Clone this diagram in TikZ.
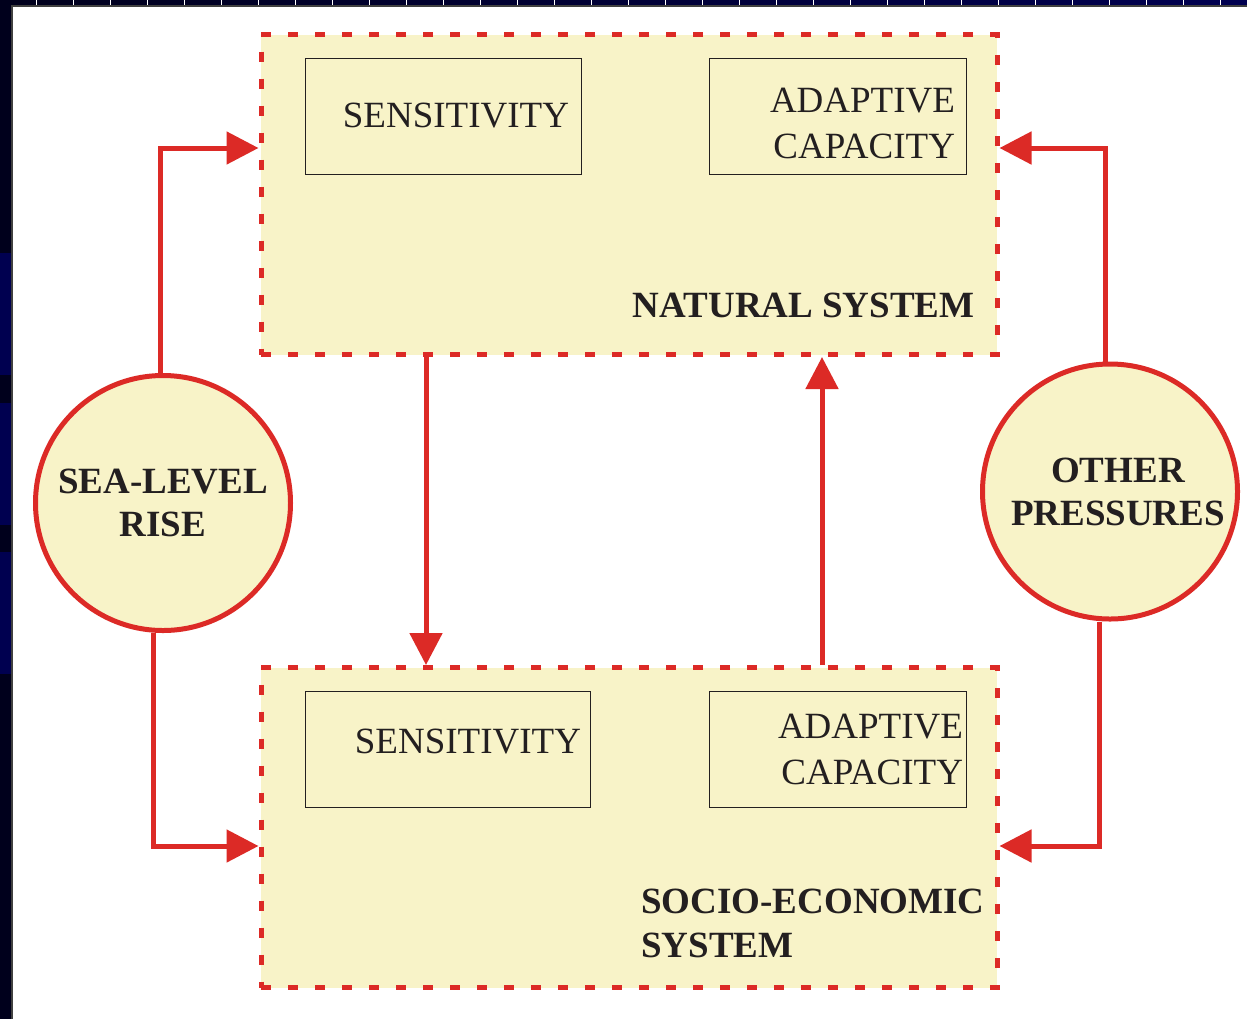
\documentclass[tikz,border=0pt]{standalone}
\usepackage{fontspec}
\setmainfont{Liberation Serif}
\usetikzlibrary{arrows.meta,positioning,backgrounds}
\definecolor{cream}{HTML}{F8F3C8}
\definecolor{sysred}{HTML}{DC2A26}
\definecolor{inkgrey}{HTML}{231F20}
\definecolor{framenavy}{HTML}{000050}
\definecolor{frameblack}{HTML}{00001C}

\begin{document}
\begin{tikzpicture}[
  x=0.5pt, y=-0.5pt,
  font=\fontsize{18.5}{23}\selectfont,
  text=inkgrey,
  system/.style={draw=sysred, fill=cream, line width=2.5pt,
                 dash pattern=on 5pt off 8.5pt, inner sep=0pt,
                 minimum width=368pt, minimum height=160pt},
  part/.style={draw=inkgrey, line width=0.5pt, align=right,
               minimum height=58pt, inner ysep=0pt},
  driver/.style={circle, draw=sysred, fill=cream, line width=2.5pt,
                 minimum size=127.5pt, inner sep=0pt, align=center,
                 font=\fontsize{18.5}{21.5}\selectfont\bfseries},
  title/.style={font=\fontsize{18.5}{22}\selectfont\bfseries, inner sep=0pt},
  arrow/.style={-{Triangle[length=16pt,width=16pt]}, draw=sysred,
                line width=2.5pt}
]

% ===== frame =====
\useasboundingbox (0,0) rectangle (1247,1019);
\fill[white] (0,0) rectangle (1247,1019);
\fill[frameblack] (0,0) rectangle (12,1019);
\foreach \y in {253,403,552} {
  \fill[framenavy] (0,\y) rectangle (12,\y+122);
}
\shade[left color=frameblack, right color=framenavy] (12,0) rectangle (1247,6);
\foreach \x in {36,73,...,1247} {
  \draw[white, line width=0.4pt] (\x,0) -- (\x,6);
}
\draw[black!75, line width=0.6pt] (12,1019) -- (12,6) -- (1247,6);

% ===== systems =====
\node[system] (natural) at (629,194.5) {};
\node[system] (socio) at (629,827.5) {};

\node[part, text width=126pt, inner xsep=6pt] (natsens) at (443,116) {SENSITIVITY};
\node[part, text width=117.5pt, inner xsep=5.5pt, text height=19.5pt] (natadapt) at (837.5,116) {ADAPTIVE\\CAPACITY};
\node[title, anchor=east] (natlabel) at (975,305) {NATURAL SYSTEM};

\node[part, text width=133.5pt, inner xsep=4.5pt, text depth=8pt] (socsens) at (447.5,749.5) {SENSITIVITY};
\node[part, text width=125.5pt, inner xsep=1.5pt] (socadapt) at (837.5,749.5) {ADAPTIVE\\CAPACITY};
\node[title, anchor=west, align=left] (soclabel) at (641,923) {SOCIO-ECONOMIC\\SYSTEM};

% ===== pressures =====
\node[driver] (slr) at (163,503) {SEA-LEVEL\\RISE};
\node[driver] (other) at (1110,491.5) {\hspace*{8pt}OTHER\\\hspace*{8pt}PRESSURES};

% arrows (pressures)
\draw[arrow] ([xshift=-1.5pt]slr.north) |- (natural.west |- 0,148);
\draw[arrow] ([xshift=-5pt]slr.south) |- (socio.west |- 0,846);
\draw[arrow] ([xshift=-2.5pt]other.north) |- (natural.east |- 0,148);
\draw[arrow] ([xshift=-5.5pt]other.south) |- (socio.east |- 0,846);

% arrows (between systems)
\draw[arrow] (natural.south -| 426,0) -- (socio.north -| 426,0);
\draw[arrow] (socio.north -| 822,0) -- (natural.south -| 822,0);

\end{tikzpicture}
\end{document}
